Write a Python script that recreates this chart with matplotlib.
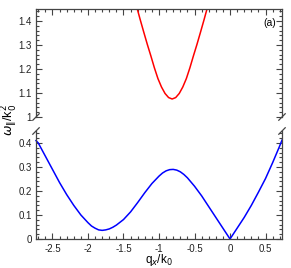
import matplotlib
matplotlib.use('Agg')
import matplotlib.pyplot as plt
from matplotlib.ticker import MultipleLocator

plt.rcParams['font.family'] = ['Liberation Sans', 'DejaVu Sans']
plt.rcParams['axes.unicode_minus'] = False

# lower branch (blue)
qx_low = [-2.732, -2.7, -2.6, -2.5, -2.4, -2.3, -2.2, -2.1, -2.0, -1.95, -1.9, -1.85, -1.8,
          -1.75, -1.7, -1.65, -1.6, -1.5, -1.4, -1.3, -1.2, -1.1, -1.0, -0.95, -0.9, -0.85,
          -0.8, -0.75, -0.7, -0.65, -0.6, -0.5, -0.4, -0.3, -0.2, -0.1, 0.0,
          0.1, 0.2, 0.3, 0.4, 0.5, 0.6, 0.7, 0.732]
w_low = [0.41, 0.40, 0.345, 0.29, 0.235, 0.185, 0.14, 0.1, 0.068, 0.054, 0.045, 0.038, 0.036,
         0.038, 0.042, 0.049, 0.058, 0.081, 0.113, 0.152, 0.193, 0.231, 0.262, 0.275, 0.284, 0.289,
         0.29, 0.287, 0.28, 0.269, 0.255, 0.22, 0.18, 0.135, 0.09, 0.045, 0.0,
         0.045, 0.09, 0.14, 0.195, 0.252, 0.318, 0.388, 0.412]

# upper branch (red)
qx_up = [-1.365, -1.315, -1.265, -1.215, -1.165, -1.115, -1.065, -1.015, -0.965, -0.915,
         -0.865, -0.815, -0.765, -0.715, -0.665, -0.615, -0.565, -0.515, -0.465, -0.415,
         -0.365, -0.315, -0.265]
w_up = [1.51, 1.46, 1.406, 1.354, 1.303, 1.255, 1.205, 1.16, 1.125, 1.098,
        1.081, 1.075, 1.081, 1.098, 1.125, 1.16, 1.205, 1.255, 1.303, 1.354,
        1.406, 1.46, 1.51]

x_ticks = [-2.5, -2, -1.5, -1, -0.5, 0, 0.5]
x_labels = ['-2.5', '-2', '-1.5', '-1', '-0.5', '0', '0.5']
y_ticks_up = [1.0, 1.1, 1.2, 1.3, 1.4]
y_labels_up = ['1', '1.1', '1.2', '1.3', '1.4']
y_ticks_low = [0, 0.1, 0.2, 0.3, 0.4]
y_labels_low = ['0', '0.1', '0.2', '0.3', '0.4']

fig = plt.figure(figsize=(2.91, 2.68), dpi=100)
W, H = 291, 268
left, right = 36 / W, 282 / W
ax_up = fig.add_axes([left, 1 - 117 / H, right - left, 108 / H])
ax_low = fig.add_axes([left, 1 - 239 / H, right - left, 108 / H])

spine_col = '#444444'
for ax in (ax_up, ax_low):
    ax.set_xlim(-2.732, 0.732)
    ax.xaxis.set_minor_locator(MultipleLocator(0.1))
    ax.yaxis.set_minor_locator(MultipleLocator(0.02))
    ax.tick_params(which='both', direction='in', top=True, right=True,
                   color=spine_col, labelsize=7, labelcolor='#222222', width=0.8)
    ax.tick_params(which='major', length=4, pad=3)
    ax.tick_params(which='minor', length=2)
    for s in ax.spines.values():
        s.set_color(spine_col)
        s.set_linewidth(0.9)

ax_up.plot(qx_up, w_up, color='red', lw=1.1)
ax_up.set_ylim(1.0, 1.45)
ax_up.set_yticks(y_ticks_up)
ax_up.set_yticklabels(y_labels_up)
ax_up.set_xticks(x_ticks)
ax_up.tick_params(axis='x', which='both', bottom=False, labelbottom=False)
ax_up.spines['bottom'].set_visible(False)
ax_up.text(0.975, 0.87, '(a)', transform=ax_up.transAxes, ha='right', va='center', fontsize=7.5)

ax_low.plot(qx_low, w_low, color='blue', lw=1.1, clip_on=False)
ax_low.set_ylim(0, 0.45)
ax_low.set_yticks(y_ticks_low)
ax_low.set_yticklabels(y_labels_low)
ax_low.set_xticks(x_ticks)
ax_low.set_xticklabels(x_labels)
ax_low.tick_params(axis='x', which='both', top=False, pad=3.5)
ax_low.spines['top'].set_visible(False)
ax_low.set_xlabel('q$_x$/k$_0$', fontsize=8.5, labelpad=-1)

# break marks
dx, dy = 0.013, 0.03
kw = dict(color=spine_col, lw=0.9, clip_on=False)
for xx in (0, 1):
    ax_up.plot([xx - dx, xx + dx], [-dy, dy], transform=ax_up.transAxes, **kw)
    ax_low.plot([xx - dx, xx + dx], [1 - dy, 1 + dy], transform=ax_low.transAxes, **kw)

fig.text(0.033, 1 - 120 / H, r'$\omega_{\|}$/k$_0^2$', rotation=90, ha='center', va='center', fontsize=9)

fig.savefig('out.png', dpi=100)
